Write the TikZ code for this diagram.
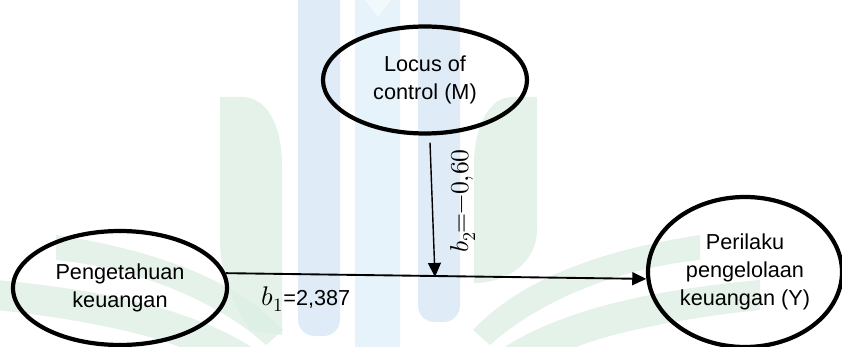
\documentclass[tikz,border=0pt]{standalone}
\usepackage{unicode-math}
\setmainfont{Liberation Sans}
\setmathfont{Latin Modern Math}
\usetikzlibrary{shapes.geometric,arrows.meta}
\definecolor{wmblue}{HTML}{DFEBF6}
\definecolor{wmlight}{HTML}{E6F3FA}
\definecolor{wmgreen}{HTML}{DDEFE4}
\tikzset{
  var/.style={ellipse,draw,line width=3.6pt,align=center,inner sep=0pt},
  link/.style={line width=1.6pt,-{Triangle[length=12pt,width=11pt]}},
  leaf/.style={fill=wmgreen,fill opacity=0.8}
}
\begin{document}
\begin{tikzpicture}[x=0.03cm,y=-0.03cm,font=\fontsize{18.5}{24}\selectfont]
	\useasboundingbox (0,0) rectangle (842,347);
	\clip (0,0) rectangle (842,347);
	% watermark in the background
	\fill[wmblue,rounded corners=14] (298,-20) rectangle (340,336);
	\fill[wmlight,rounded corners=14] (355,-20) rectangle (400,370);
	\fill[white,opacity=0.5] (364,-1) -- (378,17) -- (392,-1) -- cycle;
	\fill[wmblue,rounded corners=14] (418,-20) rectangle (460,322);
	\fill[leaf] (220,97) -- (245,97) .. controls (270,100) and (282,130) .. (282,165) -- (282,335) -- (250,330) .. controls (230,300) and (220,270) .. (220,240) -- cycle;
	\fill[leaf] (537,97) -- (537,230) .. controls (537,260) and (510,283) .. (474,283) -- (474,165) .. controls (474,125) and (490,97) .. (512,97) -- cycle;
	\fill[leaf] (473,330) .. controls (520,280) and (600,250) .. (700,235) -- (700,260) .. controls (620,268) and (540,300) .. (490,345) -- cycle;
	\fill[leaf] (500,350) .. controls (560,310) and (650,290) .. (760,280) -- (760,310) .. controls (680,318) and (600,335) .. (570,350) -- cycle;
	\fill[leaf] (283,330) .. controls (236,280) and (156,250) .. (56,235) -- (56,260) .. controls (136,268) and (216,300) .. (266,345) -- cycle;
	\fill[leaf] (256,350) .. controls (196,310) and (106,290) .. (-4,280) -- (-4,310) .. controls (76,318) and (156,335) .. (186,350) -- cycle;
	% variables
	\node[var,minimum width=204*0.03cm,minimum height=107*0.03cm] (locus) at (425,80) {Locus of\\control (M)};
	\node[var,minimum width=214*0.03cm,minimum height=114*0.03cm] (pengetahuan) at (120,288) {Pengetahuan\\keuangan};
	\node[var,minimum width=194*0.03cm,minimum height=150*0.03cm] (perilaku) at (745,272) {Perilaku\\pengelolaan\\keuangan (Y)};
	% paths
	\coordinate (hit) at (435,277);
	\draw[link] (pengetahuan.8) -- (perilaku.184);
	\draw[link,line width=1.2pt] ([shift={(5,7)}]locus.south) -- (hit);
	\node (bone) at (306,299) {{\fontsize{23}{24}\selectfont$b_1$}=2,387};
	\node[rotate=90,font=\fontsize{22}{24}\selectfont] (btwo) at (463,201) {$b_2\!\!=\!\!-0{,}60$};
\end{tikzpicture}
\end{document}
